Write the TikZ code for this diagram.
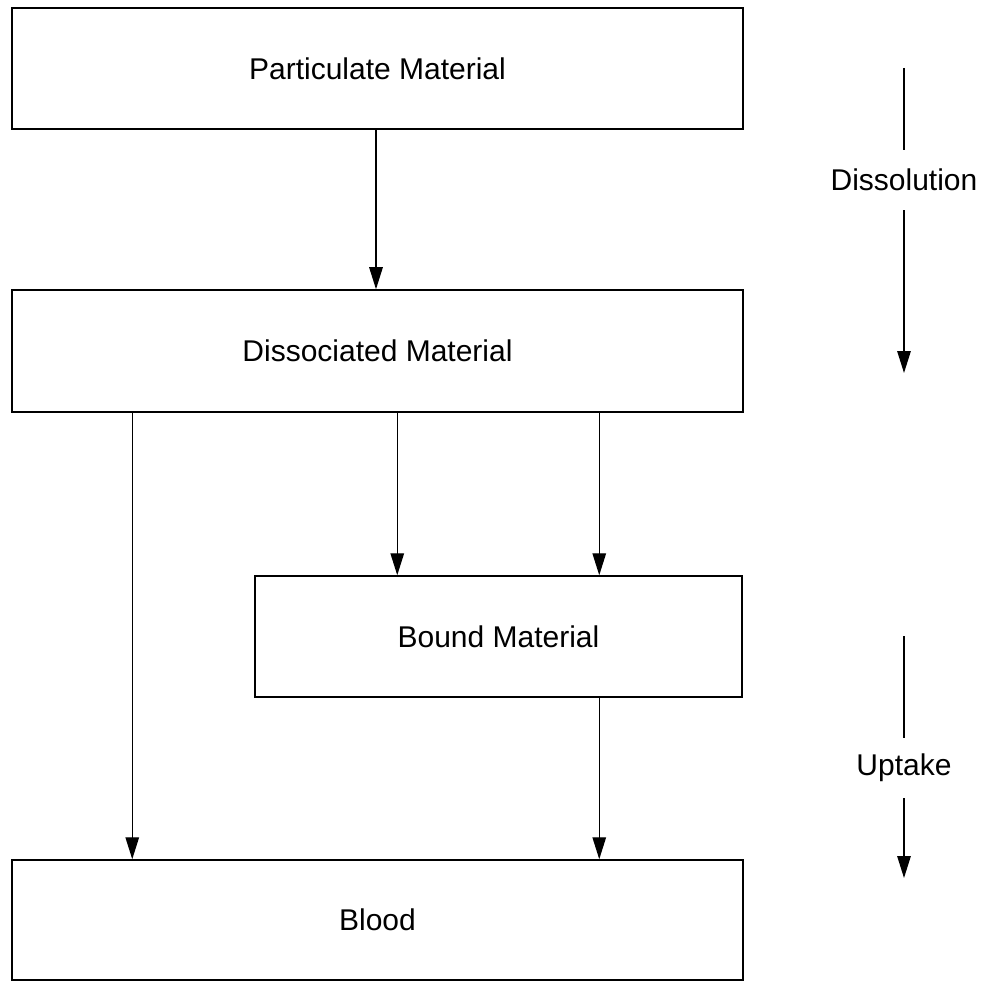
\documentclass[tikz,border=0pt]{standalone}
\usepackage{fontspec}
\setmainfont{Liberation Sans}
\usetikzlibrary{arrows.meta}
\begin{document}
\begin{tikzpicture}[x=1pt,y=-1pt,
  box/.style={draw=black,line width=1.5pt,rectangle,inner sep=0pt,
    minimum width=#1,font=\fontsize{30}{35}\selectfont},
  box/.default=731pt,
  lbl/.style={inner sep=0pt,minimum height=60pt,font=\fontsize{30}{35}\selectfont},
  arr/.style={line width=1.4pt,-{Triangle[length=22pt,width=13.5pt]}},
  ln/.style={line width=1.3pt}]
\useasboundingbox (0,0) rectangle (987,981);
\node[box,minimum height=121pt] (pm) at (377.5,68.5) {Particulate Material};
\node[box,minimum height=122pt] (dm) at (377.5,351) {Dissociated Material};
\node[box=487pt,minimum height=121pt] (bm) at (498.5,636.5) {Bound Material};
\node[box,minimum height=120pt] (bl) at (377.5,920) {Blood};
\draw[arr] ([xshift=-1.5pt]pm.south) -- ([xshift=-1.5pt]dm.north);
\draw[arr] ([xshift=121pt]dm.south west) -- ([xshift=121pt]bl.north west);
\draw[arr] ([xshift=386pt]dm.south west) -- ([xshift=143pt]bm.north west);
\draw[arr] ([xshift=588pt]dm.south west) -- ([xshift=345pt]bm.north west);
\draw[arr] ([xshift=345pt]bm.south west) -- ([xshift=588pt]bl.north west);
\node[lbl] (dis) at (904,180) {Dissolution};
\coordinate (dtop) at (904,68);
\coordinate (dend) at (904,373);
\draw[ln] (dtop) -- (dis.north);
\draw[arr] (dis.south) -- (dend);
\node[lbl] (up) at (904,768) {Uptake};
\coordinate (utop) at (904,636);
\coordinate (uend) at (904,878);
\draw[ln] (utop) -- (up.north);
\draw[arr] (up.south) -- (uend);
\end{tikzpicture}
\end{document}
